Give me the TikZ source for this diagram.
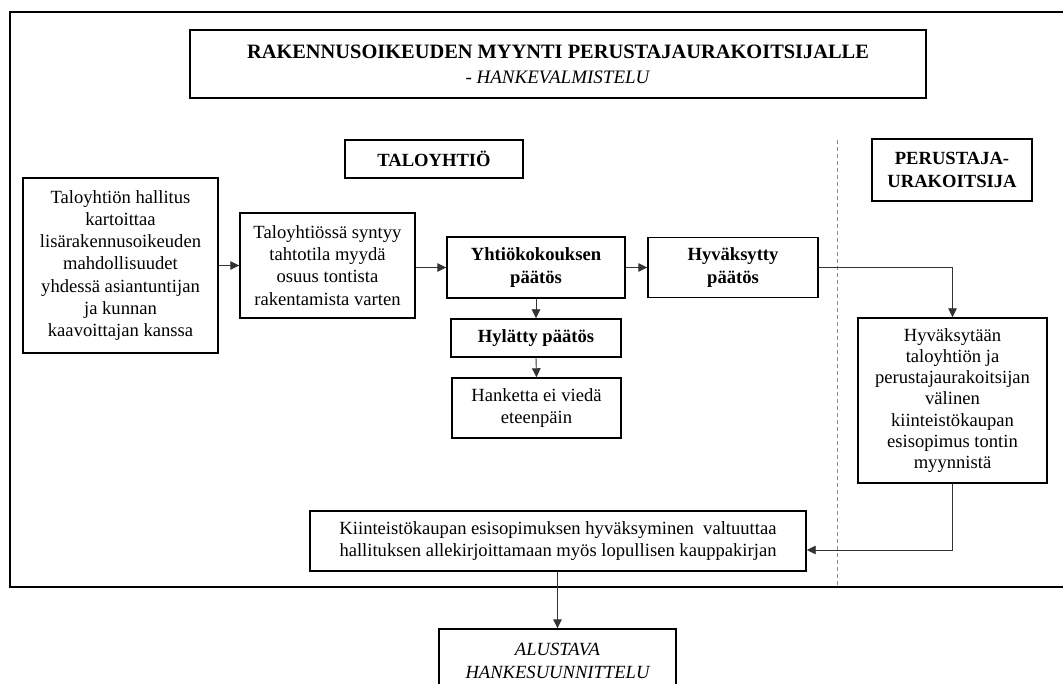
\documentclass[tikz,border=0pt]{standalone}
\usepackage{fontspec}
\setmainfont{Liberation Serif}
\usetikzlibrary{arrows.meta}
\begin{document}
\begin{tikzpicture}[x=1pt,y=-1pt,
  box/.style={draw=black, line width=1.4pt, fill=white, align=center, inner sep=0pt,
              font=\fontsize{18.6}{22.2}\selectfont},
  boldbox/.style={box, font=\fontsize{18.6}{22.6}\selectfont\bfseries},
  arr/.style={draw=black!80, line width=0.9pt, -{Triangle[length=9pt,width=8.5pt]}},
  link/.style={draw=black!75, line width=0.9pt}]
\useasboundingbox (0,0) rectangle (1063,684);
\clip (0,0) rectangle (1063,684);
\fill[white] (0,0) rectangle (1063,684);

% outer frame (open to the right)
\draw[line width=2.2pt] (1080,12) -- (10,12) -- (10,587) -- (1080,587);

% lane divider
\draw[black!45, line width=0.8pt, dash pattern=on 4pt off 3pt] (837,140) -- (837,587);

% title
\node[box, line width=1.6pt, minimum width=736pt, minimum height=68pt,
      font=\fontsize{20.4}{25}\selectfont] (title) at (558,64)
  {\textbf{RAKENNUSOIKEUDEN MYYNTI PERUSTAJAURAKOITSIJALLE}\\
   {\fontsize{19}{25}\selectfont - \textit{HANKEVALMISTELU}}};

% lane headings
\node[boldbox, minimum width=178pt, minimum height=38pt] (lane1) at (434,159) {TALOYHTIÖ};
\node[boldbox, minimum width=160pt, minimum height=62pt] (lane2) at (952,170) {PERUSTAJA-\\URAKOITSIJA};

% process steps
\node[box, line width=2.6pt, minimum width=195pt, minimum height=175pt] (a) at (120.5,265.5)
  {Taloyhtiön hallitus\\kartoittaa\\lisärakennusoikeuden\\mahdollisuudet\\yhdessä asiantuntijan\\ja kunnan\\kaavoittajan kanssa};
\node[box, minimum width=175pt, minimum height=105pt] (b) at (327.5,265.5)
  {Taloyhtiössä syntyy\\tahtotila myydä\\osuus tontista\\rakentamista varten};
\node[boldbox, minimum width=178pt, minimum height=61pt] (c) at (536,267.5)
  {Yhtiökokouksen\\päätös};
\node[boldbox, minimum width=170pt, minimum height=60pt] (d) at (733,267.5)
  {Hyväksytty\\päätös};
\node[boldbox, minimum width=170pt, minimum height=38pt] (e) at (536,338)
  {Hylätty päätös};
\node[box, minimum width=169pt, minimum height=60pt] (f) at (536.5,408)
  {Hanketta ei viedä\\eteenpäin};
\node[box, minimum width=189pt, minimum height=165pt, font=\fontsize{18.6}{21.3}\selectfont] (g) at (952.5,400.5)
  {Hyväksytään\\taloyhtiön ja\\perustajaurakoitsijan\\välinen\\kiinteistökaupan\\esisopimus tontin\\myynnistä};
\node[box, minimum width=496pt, minimum height=60pt] (h) at (558,541)
  {Kiinteistökaupan esisopimuksen hyväksyminen \ valtuuttaa\\hallituksen allekirjoittamaan myös lopullisen kauppakirjan};
\node[box, minimum width=237pt, minimum height=64pt, font=\fontsize{18.6}{22.2}\selectfont\itshape] (i) at (557.5,661)
  {ALUSTAVA\\HANKESUUNNITTELU};

% connectors
\draw[arr] (a.east) -- (b.west |- a.east);
\draw[arr] (b.east |- c.west) -- (c.west);
\draw[arr] (c.east) -- (d.west);
\draw[arr] (c.south) -- (e.north);
\draw[arr] (e.south) -- (f.north);
\draw[arr] (d.east) -| (g.north);
\draw[arr] (g.south) |- ([yshift=-9pt]h.east);
\draw[arr] (h.south -| i.north) -- (i.north);
\end{tikzpicture}
\end{document}
